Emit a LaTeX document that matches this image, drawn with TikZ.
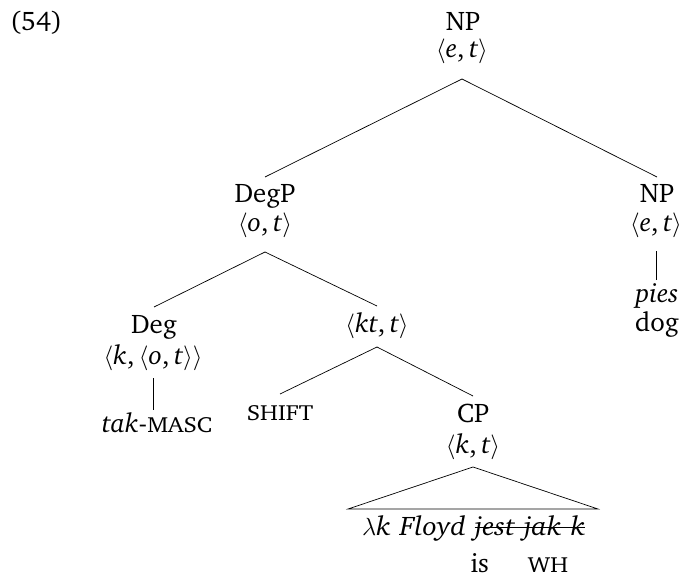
\documentclass[tikz,border=0pt]{standalone}
\usepackage[T1]{fontenc}
\usepackage{charter}
\newcommand\mainsize{\fontsize{27}{31}\selectfont}
\newcommand\fsc[1]{{\fontsize{22}{26}\selectfont\scalebox{1.1}[1]{#1}}}
\newcommand\lab{{\fontsize{24.5}{28}\selectfont$\langle$}}
\newcommand\rab{{\fontsize{24.5}{28}\selectfont$\rangle$}}
\newcommand\typ[1]{\lab#1\rab}
\newcommand\itw[1]{\scalebox{1.07}[1]{\textit{#1}}}
\begin{document}
\begin{tikzpicture}[x=1bp,y=-1bp,
  every node/.style={font=\mainsize,inner sep=0pt,outer sep=0pt,anchor=base},
  cat/.style={text height=26bp,text depth=0pt},
  typ/.style={text depth=#1},
  leaf/.style={text height=22bp},
  edge/.style={draw=black,line width=0.7bp}]
\useasboundingbox (0,0) rectangle (681,577);
\node[anchor=base west] (ex) at (10,31) {(54)};
% root
\node (np0) at (463,31) {NP};
\node[typ=21bp] (t0) at (462,58) {\typ{\textit{e},\,\textit{t}}};
% DegP
\node[cat] (degp) at (265,203) {DegP};
\node[typ=21bp] (t1) at (265,231) {\typ{\textit{o},\,\textit{t}}};
% NP right
\node[cat] (np1) at (657,203) {NP};
\node[typ=20bp] (t2) at (656,231) {\typ{\textit{e},\,\textit{t}}};
\node[leaf] (pies) at (657,302) {\textit{pies}};
\node (dog) at (657,331) {dog};
% Deg
\node[cat] (deg) at (154,333) {Deg};
\node[typ=14bp] (t3) at (153,364) {\typ{\textit{k},\,\lab\textit{o},\,\textit{t}\rab}};
\node[leaf] (tak) at (157,432) {\textit{tak}-\fsc{MASC}};
% kt,t
\node[cat,typ=15bp] (kt) at (377,332) {\typ{\textit{kt},\,\textit{t}}};
\node[cat] (shift) at (280,420) {\fsc{SHIFT}};
\node[cat] (cp) at (473,422) {CP};
\node[typ=14bp] (t4) at (473,453) {\typ{\textit{k},\,\textit{t}}};
% phrase
\node[anchor=base west] (lam) at (362,535) {$\lambda$\itw{k}\hspace{9bp}\itw{Floyd}};
\node[anchor=base west] (jest) at ([xshift=9bp]lam.base east) {\itw{jest}};
\node[anchor=base west] (jak) at ([xshift=9bp]jest.base east) {\itw{jak}};
\node[anchor=base west] (kk) at ([xshift=9bp]jak.base east) {\itw{k}};
\node[anchor=base west] (is) at ([xshift=-4bp,yshift=-37bp]jest.base west) {is};
\node[anchor=base west] (wh) at ([xshift=4bp,yshift=-37bp]jak.base west) {\fsc{WH}};
\coordinate (bl) at (348,509);
\coordinate (br) at (598,509);
% connectors
\draw[edge] (t0.south) -- (degp.north);
\draw[edge] (t0.south) -- (np1.north);
\draw[edge] (t1.south) -- (deg.north);
\draw[edge] (t1.south) -- (kt.north);
\draw[edge] (t2.south) -- (t2.south |- pies.north);
\draw[edge] (t3.south) -- (t3.south |- tak.north);
\draw[edge] (kt.south) -- (shift.north);
\draw[edge] (kt.south) -- (cp.north);
\draw[edge] (t4.south) -- (bl) -- (br) -- cycle;
\draw[edge] ([yshift=8bp]jest.base west) -- ([yshift=8bp]kk.base east);
\end{tikzpicture}
\end{document}
